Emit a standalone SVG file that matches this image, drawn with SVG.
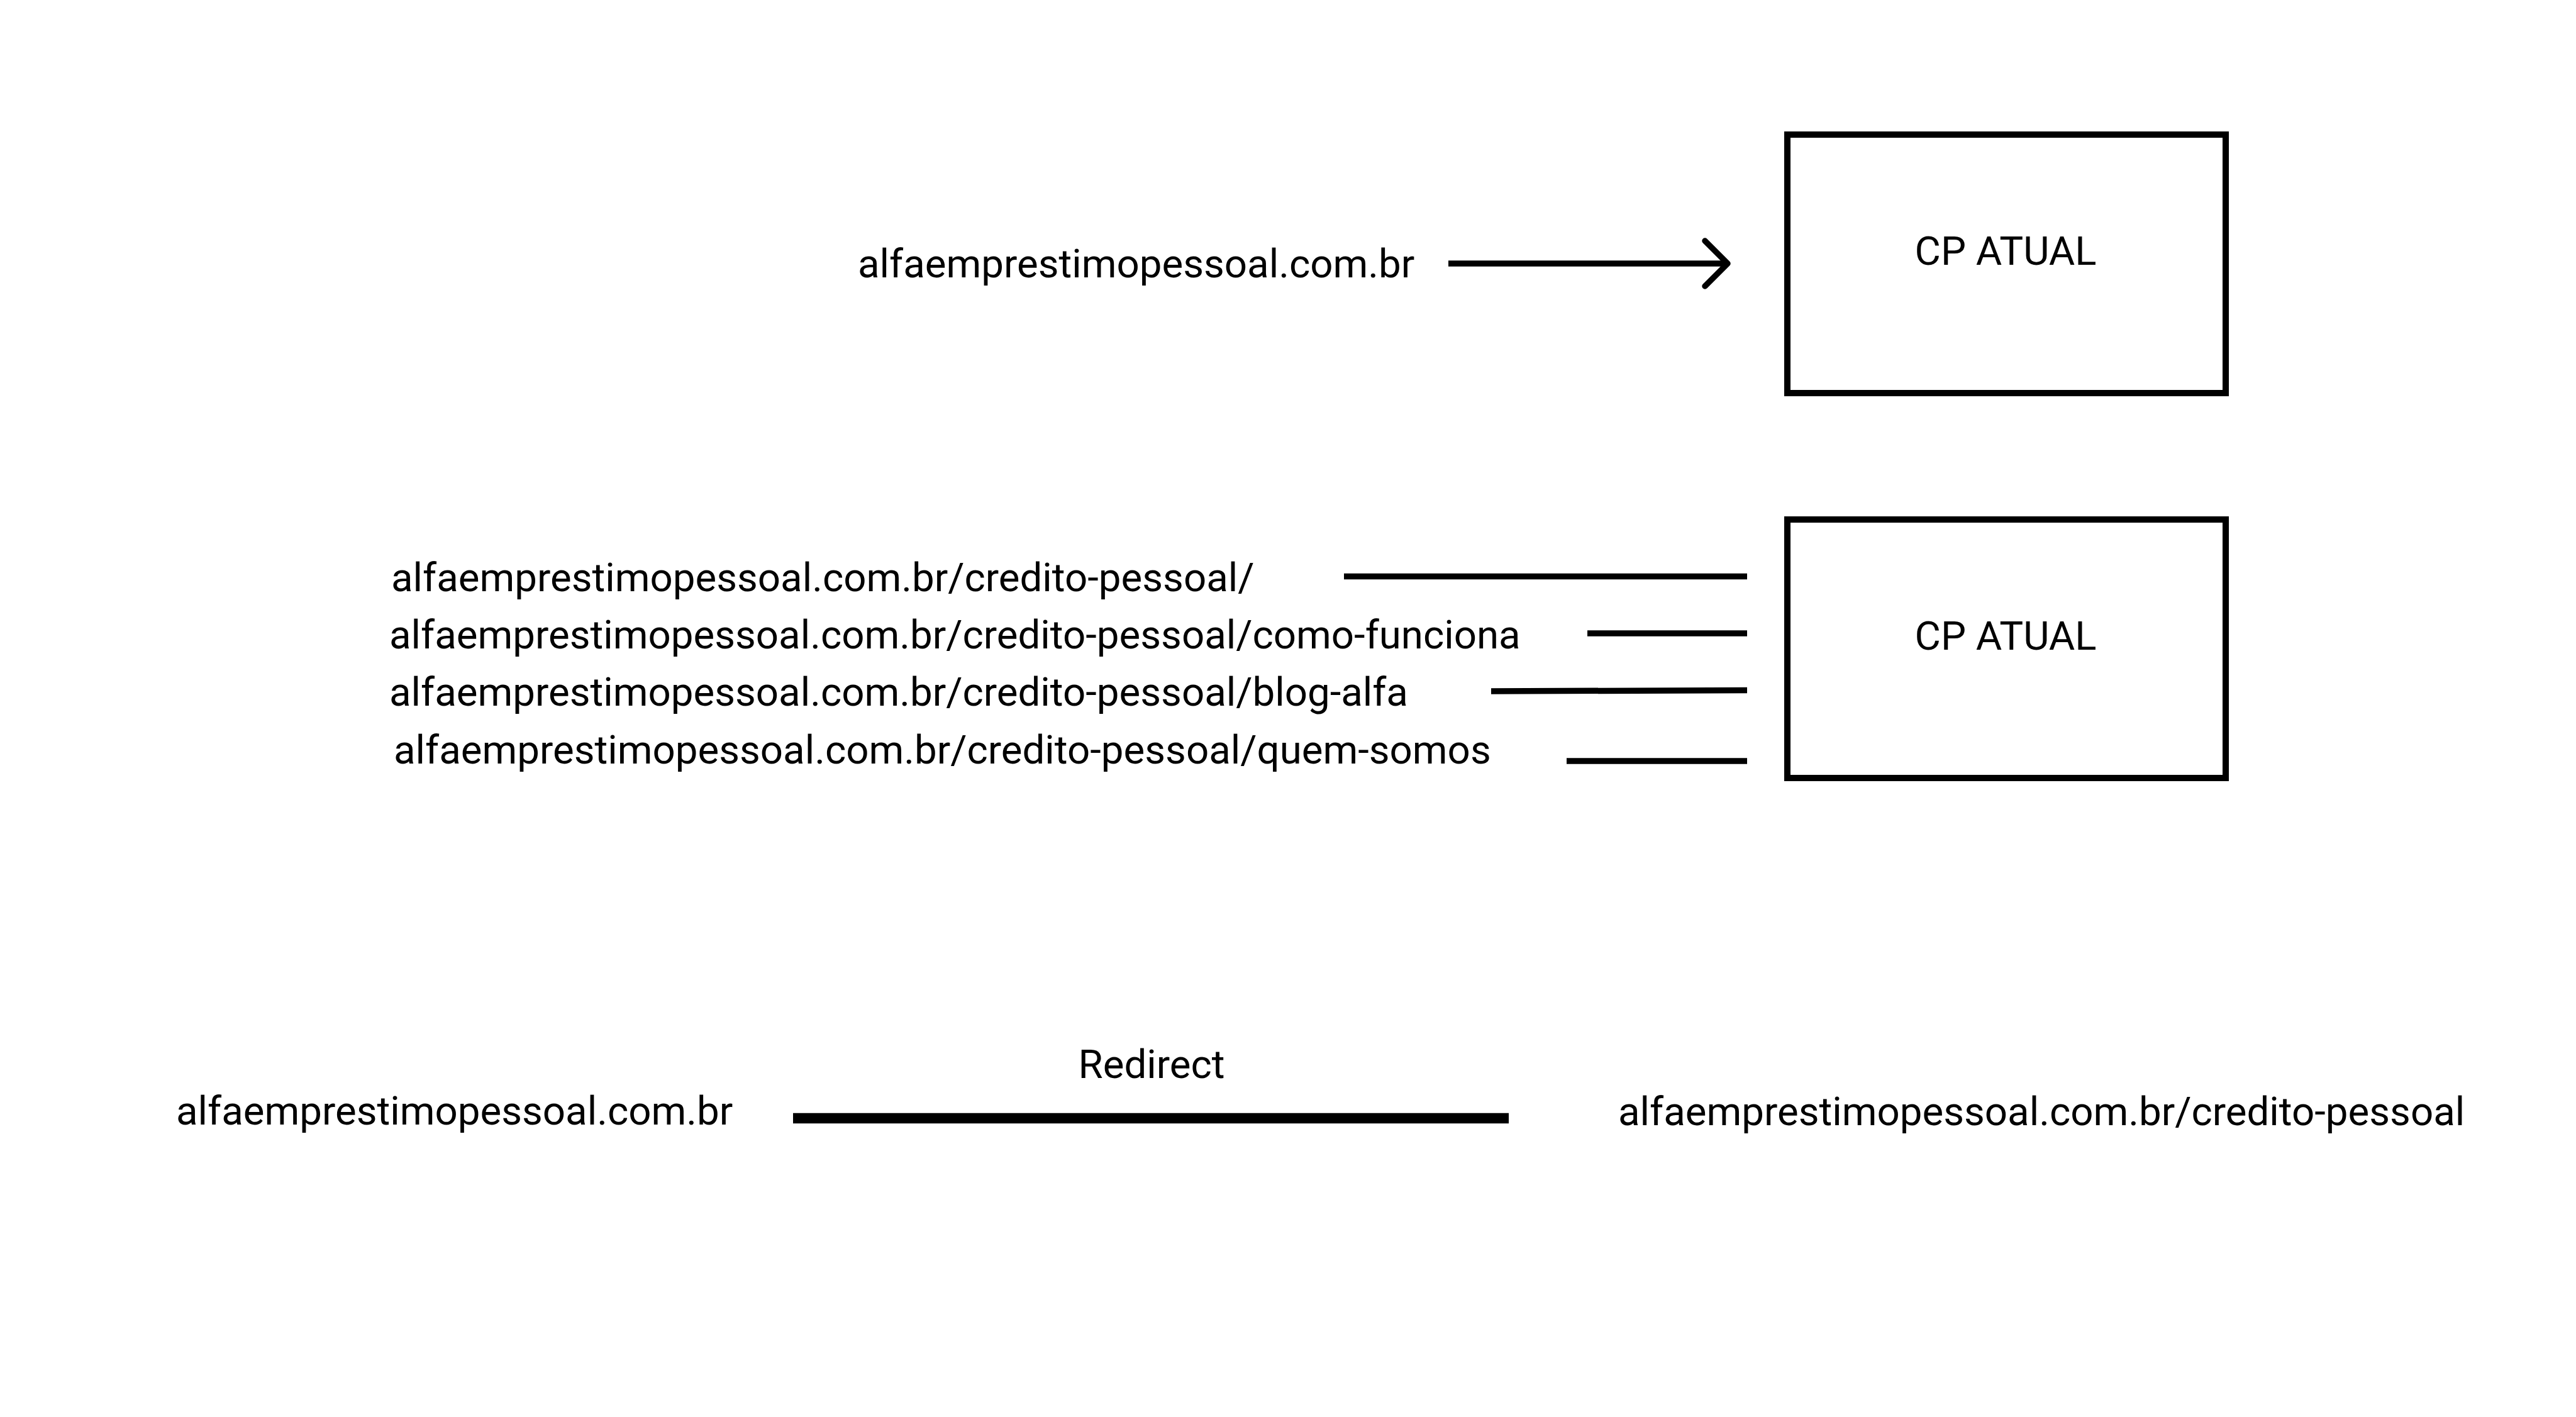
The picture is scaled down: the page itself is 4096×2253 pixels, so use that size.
<svg xmlns="http://www.w3.org/2000/svg" width="4096" height="2253" viewBox="0 0 4096 2253">
<style>
  text { font-family: Roboto, "Liberation Sans", sans-serif; font-size: 63.6px; fill: #000; }
  .box { fill: #fff; stroke: #000; stroke-width: 10; }
  .ln { stroke: #000; stroke-width: 9.5; fill: none; }
  .thick { stroke: #000; stroke-width: 16.5; fill: none; }
  .head { stroke: #000; stroke-width: 9.5; fill: none; stroke-linecap: round; stroke-linejoin: round; }
</style>
<rect width="4096" height="2253" fill="#fff"/>
<g id="node-cp-atual-1">
  <rect class="box" x="2842" y="214" width="697" height="411"/>
  <text x="3189" y="421" text-anchor="middle">CP ATUAL</text>
</g>
<g id="node-cp-atual-2">
  <rect class="box" x="2842" y="826" width="697" height="411"/>
  <text x="3189" y="1033" text-anchor="middle">CP ATUAL</text>
</g>
<g id="labels">
  <text x="1364" y="441">alfaemprestimopessoal.com.br</text>
  <text x="622" y="940">alfaemprestimopessoal.com.br/credito-pessoal/</text>
  <text x="619" y="1031">alfaemprestimopessoal.com.br/credito-pessoal/como-funciona</text>
  <text x="619" y="1122">alfaemprestimopessoal.com.br/credito-pessoal/blog-alfa</text>
  <text x="626" y="1214">alfaemprestimopessoal.com.br/credito-pessoal/quem-somos</text>
  <text x="280" y="1788">alfaemprestimopessoal.com.br</text>
  <text x="1831" y="1714" text-anchor="middle">Redirect</text>
  <text x="2573" y="1789">alfaemprestimopessoal.com.br/credito-pessoal</text>
</g>
<g id="connectors">
  <line class="ln" x1="2303" y1="419" x2="2745" y2="419"/>
  <polyline class="head" points="2711,383 2747,419 2711,455"/>
  <line class="ln" x1="2137" y1="916.5" x2="2778" y2="916.5"/>
  <line class="ln" x1="2524" y1="1007" x2="2778" y2="1007"/>
  <line class="ln" x1="2371" y1="1099" x2="2778" y2="1097.5"/>
  <line class="ln" x1="2491" y1="1210" x2="2778" y2="1210"/>
  <line class="thick" x1="1261" y1="1778" x2="2399" y2="1778"/>
</g>
</svg>
